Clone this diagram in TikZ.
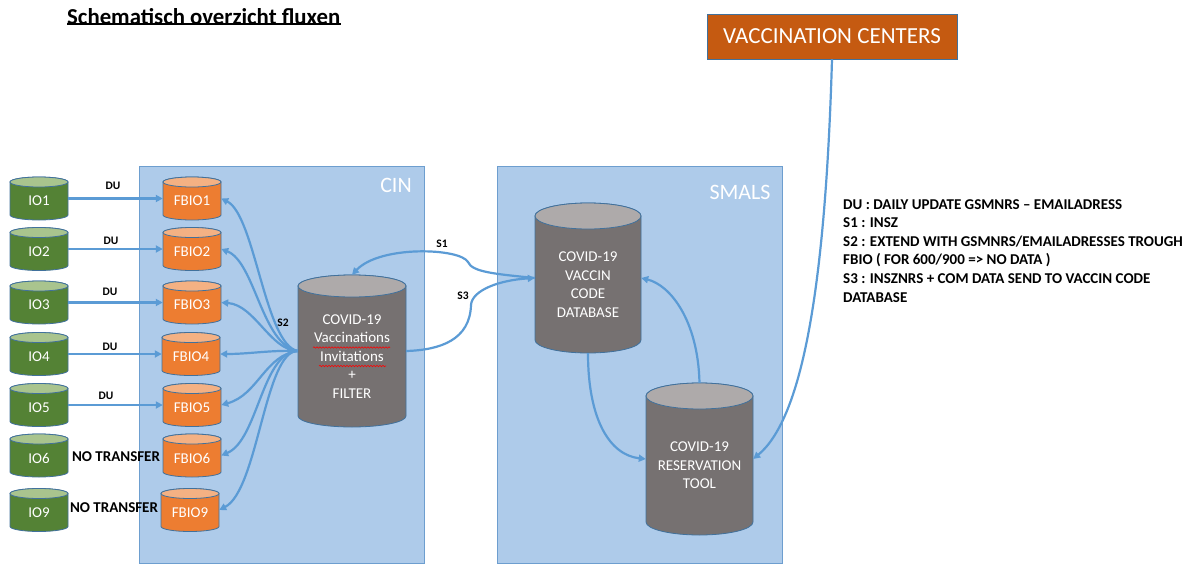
\documentclass[tikz,border=0pt]{standalone}
\usepackage{fontspec}
\setmainfont{Carlito}
\usetikzlibrary{arrows.meta,decorations.pathmorphing}
\definecolor{arrblue}{RGB}{91,155,213}
\definecolor{boxfill}{RGB}{174,203,234}
\definecolor{boxline}{RGB}{109,158,207}
\definecolor{cylline}{RGB}{65,113,156}
\definecolor{greenbody}{RGB}{84,130,53}
\definecolor{greentop}{RGB}{169,196,142}
\definecolor{orbody}{RGB}{237,125,49}
\definecolor{ortop}{RGB}{244,177,131}
\definecolor{graybody}{RGB}{118,113,113}
\definecolor{graytop}{RGB}{174,170,170}
\definecolor{vcfill}{RGB}{197,90,17}
\newcommand\cyl[9]{%
  \begin{scope}[shift={(#2,#3)}]
    \filldraw[fill=#7, draw=cylline, line width=0.8]
      ({-#4/2},{-#5/2+#6}) -- ({-#4/2},{#5/2-#6})
      arc[start angle=180, end angle=0, x radius=#4/2, y radius=#6]
      -- ({#4/2},{-#5/2+#6})
      arc[start angle=0, end angle=-180, x radius=#4/2, y radius=#6] -- cycle;
    \filldraw[fill=#8, draw=cylline, line width=0.8] (0,{-#5/2+#6}) ellipse[x radius=#4/2, y radius=#6];
  \end{scope}
  \node[inner sep=0, minimum width=#4, minimum height=#5] (#1) at (#2,#3) {};
  \node[cyltext] at (#2,{#3+#6/2}) {#9};
}
\begin{document}
\begin{tikzpicture}[x=1pt,y=-1pt,
  arr/.style={draw=arrblue, line width=2.2, -{Triangle[length=7pt,width=7pt]}},
  lbl/.style={font=\fontsize{11.5}{13}\selectfont\bfseries, inner sep=0},
  cyltext/.style={text=white, align=center, font=\fontsize{15}{18.5}\selectfont, inner sep=0},
  boxst/.style={fill=boxfill, draw=boxline, line width=0.8, inner sep=0},
  boxlbl/.style={text=white, font=\fontsize{22}{26}\selectfont, inner sep=0},
  squig/.style={draw=red, line width=0.6, decorate, decoration={snake, amplitude=0.7pt, segment length=3pt}}]
\useasboundingbox (0,0) rectangle (1200,565);
% title
\node[anchor=base west, inner sep=0, font=\fontsize{22.8}{26}\selectfont\bfseries] (title) at (67,24) {Schematisch overzicht fluxen};
\draw[line width=1.3] (title.south west) ++(0,-0.5) coordinate (ul1) -- (ul1 -| title.south east);
% boxes
\node[boxst, minimum width=285, minimum height=397] (cin) at (281.5,364.5) {};
\node[boxst, minimum width=285, minimum height=397] (smals) at (639.5,364.5) {};
\node[boxlbl] (cinlbl) at (396,185) {CIN};
\node[boxlbl] (smalslbl) at (740,192) {SMALS};
% vaccination centers
\node[fill=vcfill, draw=cylline, line width=0.8, minimum width=250, minimum height=45, text=white, font=\fontsize{23}{27}\selectfont] (vc) at (832,36.5) {VACCINATION CENTERS};
% IO cylinders
\cyl{io1}{39}{198.5}{58}{43}{5}{greenbody}{greentop}{IO1}
\cyl{io2}{39}{249}{58}{43}{5}{greenbody}{greentop}{IO2}
\cyl{io3}{39}{302.5}{58}{43}{5}{greenbody}{greentop}{IO3}
\cyl{io4}{39}{354}{58}{43}{5}{greenbody}{greentop}{IO4}
\cyl{io5}{39}{405}{58}{43}{5}{greenbody}{greentop}{IO5}
\cyl{io6}{39}{455.5}{58}{43}{5}{greenbody}{greentop}{IO6}
\cyl{io9}{39}{510}{58}{43}{5}{greenbody}{greentop}{IO9}
% FBIO cylinders
\cyl{fbio1}{192}{198.5}{58}{43}{5}{orbody}{ortop}{FBIO1}
\cyl{fbio2}{192}{249}{58}{43}{5}{orbody}{ortop}{FBIO2}
\cyl{fbio3}{192}{302.5}{58}{43}{5}{orbody}{ortop}{FBIO3}
\cyl{fbio4}{191}{354}{58}{43}{5}{orbody}{ortop}{FBIO4}
\cyl{fbio5}{192}{405}{58}{43}{5}{orbody}{ortop}{FBIO5}
\cyl{fbio6}{192}{455.5}{58}{43}{5}{orbody}{ortop}{FBIO6}
\cyl{fbio9}{190}{510}{58}{43}{5}{orbody}{ortop}{FBIO9}
% big cylinders
\cyl{inv}{352}{351}{108}{152}{11}{graybody}{graytop}{COVID-19\\Vaccinations\\Invitations\\+\\FILTER}
\cyl{db}{588}{278}{106}{150}{13}{graybody}{graytop}{COVID-19\\VACCIN\\CODE\\DATABASE}
\cyl{res}{699.5}{459}{107}{152}{13}{graybody}{graytop}{COVID-19\\RESERVATION\\TOOL}
\draw[squig] (313,347.5) -- (390,347.5);
\draw[squig] (319,366) -- (386,366);
% DU arrows
\draw[arr] (io1) -- (fbio1);
\draw[arr] (io2) -- (fbio2);
\draw[arr] (io3) -- (fbio3);
\draw[arr] (io4) -- (fbio4);
\draw[arr] (io5) -- (fbio5);
\node[lbl] (du1) at (113,186) {DU};
\node[lbl] (du2) at (111,241) {DU};
\node[lbl] (du3) at (110,292) {DU};
\node[lbl] (du4) at (110,347) {DU};
\node[lbl] (du5) at (106,396) {DU};
\node[font=\fontsize{15}{17}\selectfont\bfseries, inner sep=0] (nt6) at (116,457) {NO TRANSFER};
\node[font=\fontsize{15}{17}\selectfont\bfseries, inner sep=0] (nt9) at (114,508) {NO TRANSFER};
% S2 fan
\draw[arr] (inv.west) .. controls (265,345) and (255,215) .. (fbio1.east);
\draw[arr] (inv.west) .. controls (262,345) and (255,262) .. (fbio2.east);
\draw[arr] (inv.west) .. controls (270,350) and (255,305) .. (fbio3.east);
\draw[arr] (inv.west) .. controls (270,350) and (250,354) .. (fbio4.east);
\draw[arr] (inv.west) .. controls (265,355) and (258,395) .. (fbio5.east);
\draw[arr] (inv.west) .. controls (262,352) and (258,440) .. (fbio6.east);
\draw[arr] (inv.west) .. controls (265,350) and (258,490) .. (fbio9.east);
\node[lbl] (s2) at (283,323) {S2};
% S1 / S3
\draw[arr] (db.west) .. controls (495,274) and (472,272) .. (468,262) .. controls (460,248) and (380,245) .. (inv.north);
\draw[arr] (inv.east) .. controls (440,350) and (470,340) .. (471,305) .. controls (472,290) and (500,280) .. (db.west);
\node[lbl] (s1) at (442,244) {S1};
\node[lbl] (s3) at (463,296) {S3};
% SMALS internal
\draw[arr] (db.south) .. controls (588,420) and (610,455) .. (res.west);
\draw[arr] (res.north) .. controls (698,320) and (670,285) .. (db.east);
\draw[arr] (vc.south) .. controls (825,300) and (800,420) .. (res.east);
% legend
\node[anchor=north west, align=left, inner sep=0, font=\fontsize{15}{18.6}\selectfont\bfseries] (legend) at (843,199) {DU : DAILY UPDATE GSMNRS \textendash{} EMAILADRESS\\S1 : INSZ\\S2 : EXTEND WITH GSMNRS/EMAILADRESSES TROUGH\\FBIO ( FOR 600/900 => NO DATA )\\S3 : INSZNRS + COM DATA SEND TO VACCIN CODE\\DATABASE};
\end{tikzpicture}
\end{document}
